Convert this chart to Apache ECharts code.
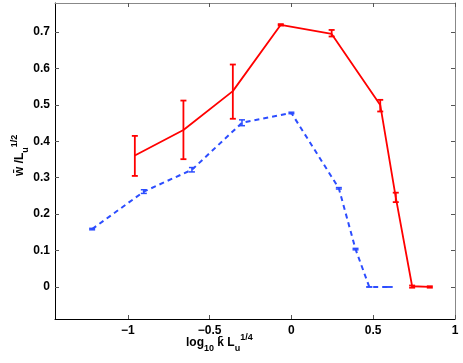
<!DOCTYPE html>
<html><head><meta charset="utf-8">
<script src="https://cdn.jsdelivr.net/npm/echarts@6/dist/echarts.min.js"></script>
<style>html,body{margin:0;padding:0;background:#fff}#c{width:463px;height:363px}</style>
</head><body><div id="c"></div>
<script>
// ---- data ----
const redX  = [-0.957, -0.66, -0.358, -0.065, 0.246, 0.543, 0.638, 0.738, 0.846];
const redY  = [0.361, 0.431, 0.538, 0.720, 0.695, 0.500, 0.246, 0.002, 0.000];
const redLo = [0.305, 0.351, 0.462, 0.718, 0.688, 0.482, 0.233, -0.002, -0.002];
const redHi = [0.415, 0.512, 0.611, 0.722, 0.706, 0.514, 0.259, 0.004, 0.002];

const blueX  = [-1.218, -0.902, -0.608, -0.302, 0.000, 0.290, 0.392, 0.476, 0.600];
const blueY  = [0.159, 0.262, 0.322, 0.451, 0.478, 0.271, 0.104, 0.000, 0.000];
const blueLo = [0.157, 0.257, 0.316, 0.443, 0.476, 0.269, 0.102, 0.000, 0.000];
const blueHi = [0.161, 0.267, 0.328, 0.459, 0.480, 0.273, 0.106, 0.000, 0.000];

const xTicks = [-1, -0.5, 0, 0.5, 1];
const yTicks = [0, 0.1, 0.2, 0.3, 0.4, 0.5, 0.6, 0.7];

const RED = '#ff0000', BLUE = '#2c4dff';
const FONT = 'Liberation Sans';

const zip2 = (a, b) => a.map((v, i) => [v, b[i]]);
const zip3 = (a, b, c) => a.map((v, i) => [v, b[i], c[i]]);

function errRender(color, w) {
  return function (params, api) {
    const x = api.value(0), lo = api.value(1), hi = api.value(2);
    const p1 = api.coord([x, lo]), p2 = api.coord([x, hi]);
    const h = 3;
    const st = { stroke: color, lineWidth: w };
    return { type: 'group', children: [
      { type: 'line', shape: { x1: p1[0], y1: p1[1], x2: p2[0], y2: p2[1] }, style: st },
      { type: 'line', shape: { x1: p1[0]-h, y1: p1[1], x2: p1[0]+h, y2: p1[1] }, style: st },
      { type: 'line', shape: { x1: p2[0]-h, y1: p2[1], x2: p2[0]+h, y2: p2[1] }, style: st }
    ]};
  };
}

const fmtX = v => (v === 0 ? '0' : String(v).replace('-', '\u2212'));
const fmtY = v => (v === 0 ? '0' : v.toFixed(1));

const labelStyle = { fontFamily: FONT, fontWeight: 'bold', fontSize: 12, color: '#000' };

const chart = echarts.init(document.getElementById('c'), null, { renderer: 'canvas' });
chart.setOption({
  animation: false,
  backgroundColor: '#fff',
  grid: { left: 55, right: 8, top: 3, bottom: 44, containLabel: false, outerBoundsMode: 'none' },
  xAxis: [{
    type: 'value', min: -1.445, max: 1.0, position: 'bottom',
    axisLine: { show: true, onZero: false, lineStyle: { color: '#000', width: 1 } },
    axisTick: { show: true, inside: true, length: 4, customValues: xTicks, lineStyle: { color: '#555' } },
    axisLabel: Object.assign({ customValues: xTicks, formatter: fmtX, margin: 6, showMinLabel: true, showMaxLabel: true }, labelStyle),
    splitLine: { show: false }
  }, {
    type: 'value', min: -1.445, max: 1.0, position: 'top',
    axisLine: { show: true, onZero: false, lineStyle: { color: '#888', width: 1 } },
    axisTick: { show: true, inside: true, length: 4, customValues: xTicks, lineStyle: { color: '#555' } },
    axisLabel: { show: false }, splitLine: { show: false }
  }],
  yAxis: [{
    type: 'value', min: -0.088, max: 0.78, position: 'left',
    axisLine: { show: true, onZero: false, lineStyle: { color: '#000', width: 1 } },
    axisTick: { show: true, inside: true, length: 4, customValues: yTicks, lineStyle: { color: '#555' } },
    axisLabel: Object.assign({ customValues: yTicks, formatter: fmtY, margin: 5 }, labelStyle),
    splitLine: { show: false }
  }, {
    type: 'value', min: -0.088, max: 0.78, position: 'right',
    axisLine: { show: true, onZero: false, lineStyle: { color: '#888', width: 1 } },
    axisTick: { show: true, inside: true, length: 4, customValues: yTicks, lineStyle: { color: '#555' } },
    axisLabel: { show: false }, splitLine: { show: false }
  }],
  series: [
    { type: 'line', data: zip2(blueX, blueY), symbol: 'none',
      lineStyle: { color: BLUE, width: 2, type: [5, 4] }, z: 2 },
    { type: 'custom', data: zip3(blueX, blueLo, blueHi), renderItem: errRender(BLUE, 1.5), z: 2 },
    { type: 'line', data: zip2(redX, redY), symbol: 'none',
      lineStyle: { color: RED, width: 1.8 }, z: 3 },
    { type: 'custom', data: zip3(redX, redLo, redHi), renderItem: errRender(RED, 1.8), z: 3 }
  ],
  graphic: [
    { type: 'text', left: 186, top: 331,
      style: { text: '{n|log}{sub|10}{n| k\u0304 L}{sub|u}{sup|1/4}',
        rich: {
          n: { fontFamily: FONT, fontWeight: 'bold', fontSize: 12, lineHeight: 24, verticalAlign: 'middle', fill: '#000' },
          sub: { fontFamily: FONT, fontWeight: 'bold', fontSize: 9, lineHeight: 24, verticalAlign: 'bottom', fill: '#000', padding: [0,0,2,0] },
          sup: { fontFamily: FONT, fontWeight: 'bold', fontSize: 9, lineHeight: 24, verticalAlign: 'top', fill: '#000', padding: [2,0,0,0] }
        } } },
    { type: 'text', x: 8, y: 176, rotation: Math.PI / 2,
      style: { text: '{n|w\u0304 /L}{sub|u}{sup|1/2}',
        rich: {
          n: { fontFamily: FONT, fontWeight: 'bold', fontSize: 12, lineHeight: 24, verticalAlign: 'middle', fill: '#000' },
          sub: { fontFamily: FONT, fontWeight: 'bold', fontSize: 9, lineHeight: 24, verticalAlign: 'bottom', fill: '#000', padding: [0,0,2,0] },
          sup: { fontFamily: FONT, fontWeight: 'bold', fontSize: 9, lineHeight: 24, verticalAlign: 'top', fill: '#000', padding: [2,0,0,0] }
        } } }
  ]
});
</script>
</body></html>
